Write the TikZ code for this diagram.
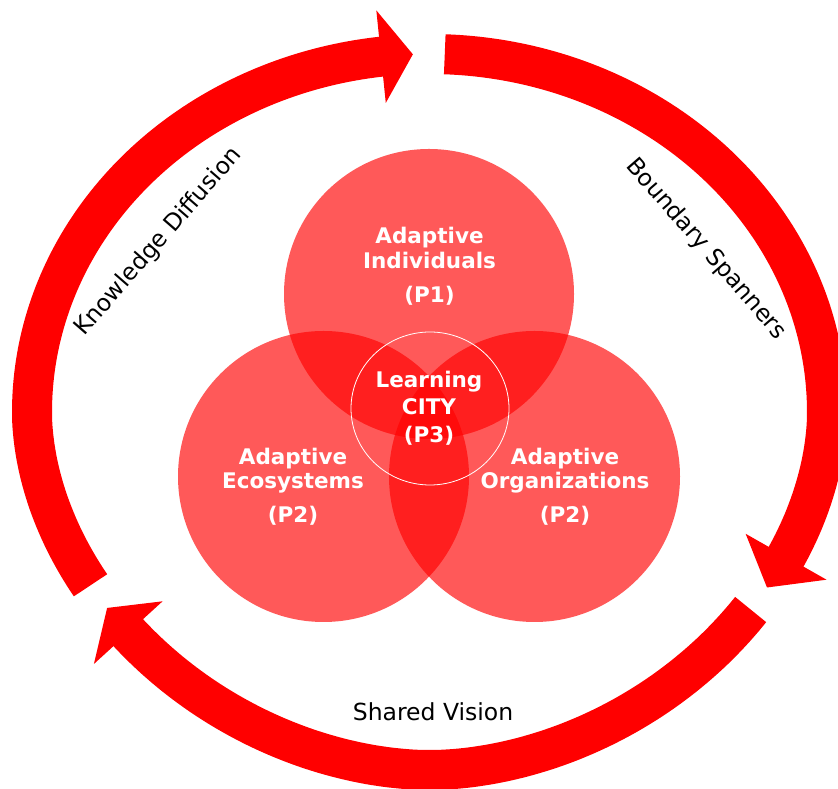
\documentclass[tikz,border=0pt]{standalone}
\usepackage{fontspec}
\setmainfont{DejaVu Sans}
\usetikzlibrary{calc}
\begin{document}
\begin{tikzpicture}[x=1pt,y=1pt,
  declare function={
    ex(\t)=1+0.07*(sin(\t)<0);
    rx(\t)=429.5+397.5*cos(\t)*(abs(cos(\t))+0.0001)^(ex(\t)-1);
    ry(\t)=377+358*sin(\t)*(abs(sin(\t))+0.0001)^(ex(\t)-1);
  },
  band/.style={draw=red, line width=40pt, line cap=butt},
  head/.style={fill=red},
  venn/.style={fill=red, fill opacity=0.65},
  vtext/.style={text=white, font=\bfseries\fontsize{21.5}{25}\selectfont, anchor=base, inner sep=0pt},
  ltext/.style={text=black, font=\fontsize{23.5}{28}\selectfont, inner sep=0pt},
]
\clip (0,0) rectangle (838,789);

% ---- Venn circles ----
\coordinate (cI) at (429,495);
\coordinate (cE) at (323.5,312.5);
\coordinate (cO) at (534.5,312.5);
\coordinate (cC) at (430,380.5);
\fill[venn] (cI) circle[radius=145];
\fill[venn] (cE) circle[radius=145.5];
\fill[venn] (cO) circle[radius=145.5];
\draw[white, line width=0.8pt] (cC) ellipse[x radius=79, y radius=76.5];

% ---- Ring: Knowledge Diffusion ----
\coordinate (kdB) at ({rx(97)},{ry(97)});
\coordinate (kdN) at ({rx(96)},{ry(96)});
\coordinate (kdT) at ({rx(92.4)},{ry(92.4)});
\draw[band] plot[domain=96.5:210.5, samples=120] ({rx(\x)},{ry(\x)});
\fill[head] ($(kdB)!46.5pt!90:(kdN)$) -- (kdT) -- ($(kdB)!46.5pt!-90:(kdN)$) -- cycle;

% ---- Ring: Boundary Spanners ----
\coordinate (bsB) at ({rx(-25.4)},{ry(-25.4)});
\coordinate (bsN) at ({rx(-26.4)},{ry(-26.4)});
\coordinate (bsT) at ({rx(-30.9)},{ry(-30.9)});
\draw[band] plot[domain=-25.9:87.8, samples=120] ({rx(\x)},{ry(\x)});
\fill[head] ($(bsB)!46.5pt!90:(bsN)$) -- (bsT) -- ($(bsB)!46.5pt!-90:(bsN)$) -- cycle;

% ---- Ring: Shared Vision ----
\coordinate (svB) at ({rx(219.5)},{ry(219.5)});
\coordinate (svN) at ({rx(218.5)},{ry(218.5)});
\coordinate (svT) at ({rx(214.7)},{ry(214.7)});
\draw[band] plot[domain=219:325, samples=120] ({rx(\x)},{ry(\x)});
\fill[head] ($(svB)!46.5pt!90:(svN)$) -- (svT) -- ($(svB)!46.5pt!-90:(svN)$) -- cycle;

% ---- Venn texts ----
\node[vtext] (i1) at (429.5,545) {Adaptive};
\node[vtext] (i2) at (429.5,520) {Individuals};
\node[vtext] (i3) at (429.5,486) {(P1)};
\node[vtext] (e1) at (293,324) {Adaptive};
\node[vtext] (e2) at (293,300) {Ecosystems};
\node[vtext] (e3) at (293,266) {(P2)};
\node[vtext] (o1) at (565,324) {Adaptive};
\node[vtext] (o2) at (565,300) {Organizations};
\node[vtext] (o3) at (565,266) {(P2)};
\node[vtext] (l1) at (429,401) {Learning};
\node[vtext] (l2) at (429,374) {CITY};
\node[vtext] (l3) at (429,346) {(P3)};

% ---- Ring labels ----
\node[ltext, rotate=49] (kd) at (158.5,547) {Knowledge Diffusion};
\node[ltext, rotate=-49] (bs) at (706,540) {Boundary Spanners};
\node[ltext, anchor=base] (sv) at (433,68) {Shared Vision};
\end{tikzpicture}
\end{document}
